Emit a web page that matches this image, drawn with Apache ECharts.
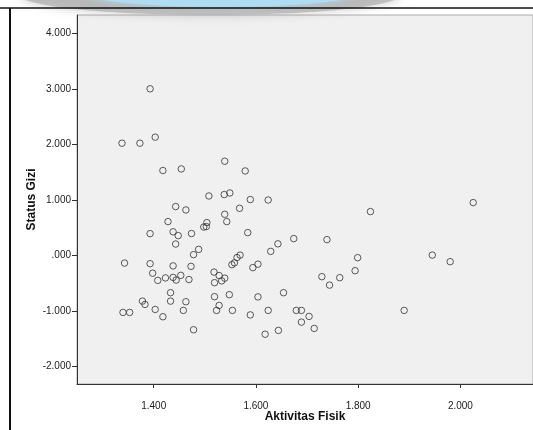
<!DOCTYPE html>
<html><head><meta charset="utf-8">
<script src="https://cdn.jsdelivr.net/npm/echarts@6/dist/echarts.min.js"></script>
<style>html,body{margin:0;padding:0;background:#fff}#c{width:533px;height:430px}</style>
</head><body><div id="c"></div>
<script>
const aktivitasFisik = [1.393,1.338,1.373,1.403,1.418,1.454,1.539,1.579,1.508,1.538,1.549,1.589,1.624,1.443,1.463,1.568,1.428,1.539,1.543,1.504,1.498,1.503,1.393,1.438,1.448,1.474,1.584,1.443,1.488,1.478,1.343,1.393,1.438,1.473,1.398,1.408,1.423,1.438,1.444,1.453,1.469,1.518,1.528,1.533,1.539,1.519,1.553,1.558,1.563,1.569,1.594,1.604,1.629,1.643,1.674,1.739,1.824,2.025,1.799,1.794,1.729,1.764,1.744,1.945,1.980,1.654,1.433,1.433,1.378,1.383,1.403,1.418,1.340,1.353,1.458,1.463,1.478,1.519,1.523,1.528,1.548,1.554,1.604,1.589,1.624,1.618,1.679,1.689,1.704,1.689,1.714,1.644,1.890];
const statusGizi = [3.006,2.024,2.024,2.133,1.531,1.560,1.699,1.523,1.072,1.097,1.126,1.007,0.999,0.880,0.819,0.849,0.609,0.741,0.609,0.591,0.511,0.519,0.392,0.425,0.356,0.394,0.410,0.204,0.108,0.013,-0.139,-0.150,-0.190,-0.199,-0.322,-0.452,-0.407,-0.398,-0.446,-0.361,-0.437,-0.302,-0.365,-0.461,-0.412,-0.493,-0.168,-0.136,-0.040,0.004,-0.222,-0.159,0.072,0.208,0.302,0.284,0.790,0.952,-0.042,-0.277,-0.385,-0.403,-0.537,0.005,-0.114,-0.674,-0.674,-0.826,-0.826,-0.886,-0.976,-1.108,-1.030,-1.030,-0.994,-0.837,-1.343,-0.746,-0.994,-0.904,-0.710,-0.994,-0.750,-1.075,-0.994,-1.424,-0.994,-0.994,-1.102,-1.205,-1.319,-1.355,-0.994];
const xTicks = [1.4, 1.6, 1.8, 2.0];
const yTicks = [-2, -1, 0, 1, 2, 3, 4];
const xName = 'Aktivitas Fisik';
const yName = 'Status Gizi';

function fmt(v){ return v.toFixed(3).replace(/^(-?)0\./, '$1.'); }

const chart = echarts.init(document.getElementById('c'), null, {renderer:'canvas'});
const labelStyle = {fontFamily:'Liberation Sans, Arial, sans-serif', fontSize:10, color:'#222'};
chart.setOption({
  animation:false,
  backgroundColor:'#fff',
  grid:{left:77, top:15, right:-3, bottom:46, show:true, backgroundColor:'#F0F0F0', borderColor:'#aaa', borderWidth:1},
  xAxis:{
    type:'value', min:1.25, max:2.142,
    name:xName, nameLocation:'middle', nameGap:27, nameMoveOverlap:false,
    nameTextStyle:{fontFamily:'Liberation Sans, Arial, sans-serif', fontSize:12, fontWeight:'bold', color:'#111'},
    axisLine:{show:true, onZero:false, lineStyle:{color:'#333', width:1}},
    axisTick:{show:true, customValues:xTicks, length:4, lineStyle:{color:'#333'}},
    axisLabel:Object.assign({customValues:xTicks, formatter:fmt, margin:17}, labelStyle),
    splitLine:{show:false}
  },
  yAxis:{
    type:'value', min:-2.322, max:4.338,
    name:yName, nameLocation:'middle', nameGap:39, nameMoveOverlap:false,
    nameTextStyle:{fontFamily:'Liberation Sans, Arial, sans-serif', fontSize:12, fontWeight:'bold', color:'#111'},
    axisLine:{show:true, onZero:false, lineStyle:{color:'#333', width:1}},
    axisTick:{show:true, customValues:yTicks, length:5, lineStyle:{color:'#333'}},
    axisLabel:Object.assign({customValues:yTicks, formatter:fmt, margin:6}, labelStyle),
    splitLine:{show:false}
  },
  series:[{
    type:'scatter', symbol:'circle', symbolSize:6.5, silent:true,
    itemStyle:{color:'rgba(0,0,0,0)', borderColor:'#333', borderWidth:1},
    data:aktivitasFisik.map((x,i)=>[x, statusGizi[i]])
  }],
  graphic:[
    {type:'ellipse', shape:{cx:210, cy:-5, rx:190, ry:20}, style:{fill:'rgba(175,175,175,0.7)', shadowBlur:10, shadowColor:'rgba(160,160,160,0.8)'}, z:100},
    {type:'ellipse', shape:{cx:222, cy:-8, rx:140, ry:15}, style:{fill:'#AEDCF3', shadowBlur:6, shadowColor:'#AEDCF3'}, z:101},
    {type:'line', shape:{x1:0, y1:8, x2:533, y2:8}, style:{stroke:'#111', lineWidth:1.5}, z:102},
    {type:'line', shape:{x1:10, y1:8, x2:10, y2:430}, style:{stroke:'#111', lineWidth:2}, z:102}
  ]
});
</script></body></html>
